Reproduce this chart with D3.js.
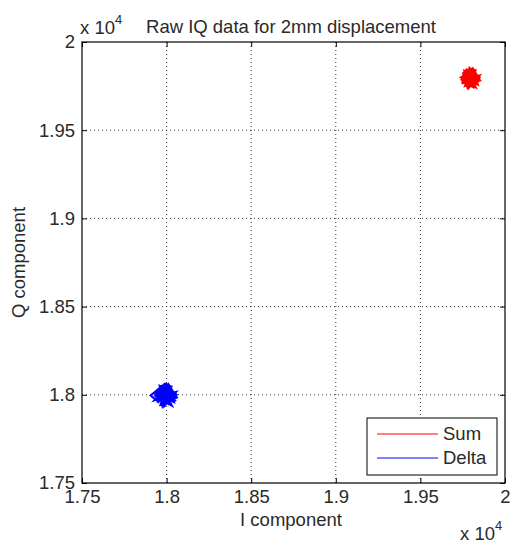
<!DOCTYPE html>
<html>
<head>
<meta charset="UTF-8">
<script src="https://d3js.org/d3.v7.min.js"></script>
<style>
    body { margin: 0; background: #fff; }
    svg text { font-family: "Liberation Sans", Arial, sans-serif; fill: #2a2a2a; }
</style>
</head>
<body>
<script>
    // ticks (raw units) and their labels (x 10^4)
    const tickValues = [17500, 18000, 18500, 19000, 19500, 20000];
    const tickLabels = ["1.75", "1.8", "1.85", "1.9", "1.95", "2"];

    // Sum channel: I / Q samples
    const sumI = [19797,19752,19840,19770,19825,19748,19848,19785,19760,19832,19745,19810,19852,19765,19800,19838,19742,19820,19778,19755,19845,19790,19768,19835,19750,19815,19850,19773,19758,19828,19795,19746,19843,19780,19808,19762,19836,19754,19818,19788,19772,19842,19749,19812,19797];
    const sumQ = [19794,19820,19770,19848,19745,19788,19810,19740,19836,19805,19765,19850,19782,19752,19842,19760,19800,19828,19744,19818,19790,19852,19758,19812,19780,19742,19800,19835,19762,19845,19770,19808,19784,19822,19748,19840,19775,19795,19830,19756,19812,19766,19825,19800,19794];

    // Delta channel: I / Q samples
    const deltaI = [17996,17950,18040,17970,18030,17940,18055,17985,17960,18045,17930,18010,18060,17965,18000,18042,17938,18025,17975,17955,18050,17990,17906,17945,18035,17962,18058,17980,17948,18028,18005,17935,18048,17978,18015,17958,18040,17942,18022,17992,17968,18052,17946,18012,17996];
    const deltaQ = [17999,18035,17965,18055,17940,17990,18015,17935,18050,18010,17970,18060,17985,17945,18055,17960,18005,18040,17938,18030,17995,18062,17996,17965,18020,17940,18000,18050,17955,18052,17960,18018,17985,18035,17942,18048,17975,17998,18040,17950,18020,17962,18030,18005,17999];

    const seriesNames = ["Sum", "Delta"];
    const seriesColors = ["#ff0000", "#0000ff"];

    const W = 510, H = 545;
    const m = { left: 82, top: 42, right: 5, bottom: 62 };
    const iw = W - m.left - m.right, ih = H - m.top - m.bottom;
    const fs = "18.5px";

    const svg = d3.select("body").append("svg").attr("width", W).attr("height", H);

    const x = d3.scaleLinear().domain([17500, 20000]).range([m.left, m.left + iw]);
    const y = d3.scaleLinear().domain([17500, 20000]).range([m.top + ih, m.top]);
    const fmt = d => tickLabels[tickValues.indexOf(d)];

    // grid
    const grid = svg.append("g").attr("stroke", "#333").attr("stroke-width", 1).attr("stroke-dasharray", "1,3");
    tickValues.slice(1, -1).forEach(v => {
        grid.append("line").attr("x1", x(v)).attr("x2", x(v)).attr("y1", m.top).attr("y2", m.top + ih);
        grid.append("line").attr("x1", m.left).attr("x2", m.left + iw).attr("y1", y(v)).attr("y2", y(v));
    });

    // data
    svg.append("clipPath").attr("id", "clip").append("rect")
        .attr("x", m.left).attr("y", m.top).attr("width", iw).attr("height", ih);
    const line = d3.line().x(d => x(d[0])).y(d => y(d[1]));
    const plot = svg.append("g").attr("clip-path", "url(#clip)");
    plot.append("path").datum(d3.zip(sumI, sumQ))
        .attr("d", line).attr("fill", "none").attr("stroke", seriesColors[0]).attr("stroke-width", 2.2);
    plot.append("path").datum(d3.zip(deltaI, deltaQ))
        .attr("d", line).attr("fill", "none").attr("stroke", seriesColors[1]).attr("stroke-width", 2.2);

    // axes, ticks pointing in
    const axisStyle = g => {
        g.select(".domain").remove();
        g.selectAll(".tick line").attr("stroke", "#000");
        g.selectAll(".tick text").style("font-size", fs).attr("fill", "#2a2a2a");
    };
    svg.append("g").attr("transform", `translate(0,${m.top + ih})`)
        .call(d3.axisBottom(x).tickValues(tickValues).tickFormat(fmt).tickSizeInner(-5).tickSizeOuter(0).tickPadding(7))
        .call(axisStyle);
    svg.append("g").attr("transform", `translate(0,${m.top})`)
        .call(d3.axisTop(x).tickValues(tickValues).tickFormat("").tickSizeInner(-5).tickSizeOuter(0))
        .call(axisStyle);
    svg.append("g").attr("transform", `translate(${m.left},0)`)
        .call(d3.axisLeft(y).tickValues(tickValues).tickFormat(fmt).tickSizeInner(-5).tickSizeOuter(0).tickPadding(7))
        .call(axisStyle);
    svg.append("g").attr("transform", `translate(${m.left + iw},0)`)
        .call(d3.axisRight(y).tickValues(tickValues).tickFormat("").tickSizeInner(-5).tickSizeOuter(0))
        .call(axisStyle);

    svg.append("rect").attr("x", m.left).attr("y", m.top).attr("width", iw).attr("height", ih)
        .attr("fill", "none").attr("stroke", "#000").attr("stroke-width", 1.2);

    // exponent labels
    const expo = (tx, ty) => {
        const t = svg.append("text").attr("x", tx).attr("y", ty).style("font-size", fs);
        t.append("tspan").text("x 10");
        t.append("tspan").attr("dy", -10).style("font-size", "13px").text("4");
    };
    expo(80, 34);
    expo(460, 540);

    // title and axis labels
    svg.append("text").attr("x", 291).attr("y", 33).attr("text-anchor", "middle")
        .style("font-size", fs).text("Raw IQ data for 2mm displacement");
    svg.append("text").attr("x", 291).attr("y", 526).attr("text-anchor", "middle")
        .style("font-size", fs).text("I component");
    svg.append("text").attr("transform", `translate(25,${m.top + ih / 2}) rotate(-90)`).attr("text-anchor", "middle")
        .style("font-size", fs).text("Q component");

    // legend
    const lg = svg.append("g").attr("transform", "translate(367,418)");
    lg.append("rect").attr("width", 130).attr("height", 57).attr("fill", "#fff").attr("stroke", "#000");
    seriesNames.forEach((n, i) => {
        lg.append("line").attr("x1", 10).attr("x2", 71).attr("y1", 16 + i * 24).attr("y2", 16 + i * 24)
            .attr("stroke", seriesColors[i]).attr("stroke-width", 1);
        lg.append("text").attr("x", 76).attr("y", 22 + i * 24).style("font-size", fs).text(n);
    });
</script>
</body>
</html>
